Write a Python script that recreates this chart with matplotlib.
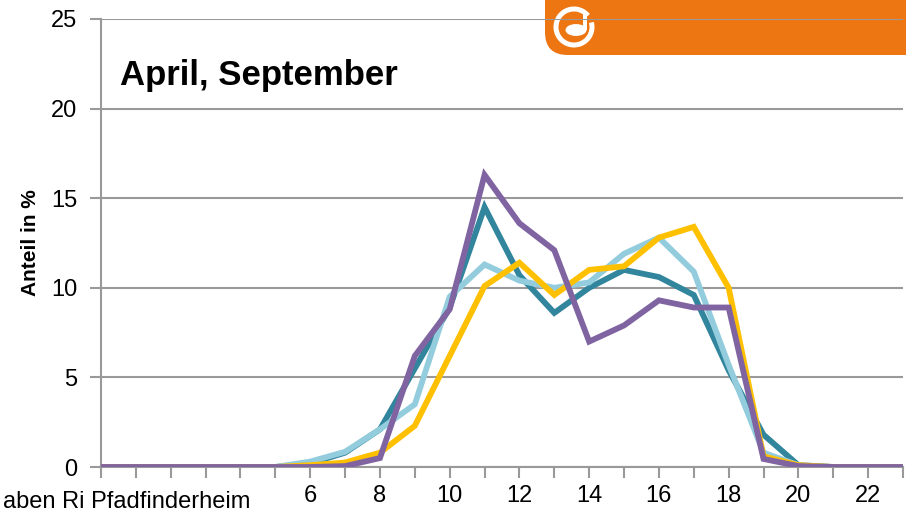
import matplotlib.pyplot as plt
from matplotlib.patches import FancyBboxPatch, Circle, Arc, Rectangle

hours = list(range(24))
teal = [0, 0, 0, 0, 0, 0, 0.2, 0.8, 2.1, 5.5, 8.9, 14.5, 10.7, 8.6, 10.0, 11.0, 10.6, 9.6, 5.4, 1.8, 0.1, 0, 0, 0]
lightblue = [0, 0, 0, 0, 0, 0, 0.3, 0.85, 2.1, 3.5, 9.5, 11.3, 10.4, 10.0, 10.3, 11.9, 12.8, 10.9, 5.7, 0.8, 0.1, 0, 0, 0]
yellow = [0, 0, 0, 0, 0, 0, 0.1, 0.25, 0.8, 2.3, 6.2, 10.1, 11.4, 9.6, 11.0, 11.2, 12.8, 13.4, 10.0, 0.6, 0.1, 0, 0, 0]
purple = [0, 0, 0, 0, 0, 0, 0, 0.05, 0.5, 6.2, 8.8, 16.3, 13.6, 12.1, 7.0, 7.9, 9.3, 8.9, 8.9, 0.45, 0.05, 0, 0, 0]
xlabels = [6, 8, 10, 12, 14, 16, 18, 20, 22]
yticks = [0, 5, 10, 15, 20, 25]

plt.rcParams['font.family'] = ['Liberation Sans', 'DejaVu Sans']

fig = plt.figure(figsize=(9.06, 5.14), dpi=100, facecolor='white')

# orange header box, behind the axes
box = FancyBboxPatch((545 / 906, 0.893), 0.5, 0.2, boxstyle="round,pad=0,rounding_size=0.025",
                     transform=fig.transFigure, fc='#EE7612', ec='none', zorder=-2,
                     mutation_aspect=906 / 514)
fig.patches.append(box)
# simple logo
cx, cy = 574 / 906, 1 - 27 / 514
fig.patches.append(Arc((cx, cy), 36 / 906, 36 / 514, theta1=55, theta2=25, lw=3.6,
                       color='white', transform=fig.transFigure, zorder=-1))
fig.patches.append(Circle((576 / 906, 1 - 30 / 514), 10.5 / 906, fc='white', ec='none',
                          transform=fig.transFigure, zorder=-1))
fig.patches.append(Rectangle((583 / 906, 1 - 30 / 514), 4 / 906, 16 / 514, fc='white', ec='none',
                             transform=fig.transFigure, zorder=-1))

ax = fig.add_axes([101 / 906, 1 - 467 / 514, 802 / 906, 448 / 514])
ax.set_facecolor('none')

ax.plot(hours, teal, color='#31859C', lw=4.2, solid_joinstyle='miter', zorder=3)
ax.plot(hours, lightblue, color='#93CDDD', lw=4.2, solid_joinstyle='miter', zorder=3)
ax.plot(hours, yellow, color='#FFC000', lw=4.2, solid_joinstyle='miter', zorder=3)
ax.plot(hours, purple, color='#8064A2', lw=4.2, solid_joinstyle='miter', zorder=3)

ax.set_xlim(0, 23)
ax.set_ylim(0, 25)
ax.set_yticks(yticks)
ax.set_xticks(hours)
ax.set_xticklabels([str(h) if h in xlabels else '' for h in hours])
ax.yaxis.grid(True, color='#999999', lw=1.5)
ax.set_axisbelow(True)
for s in ['top', 'right']:
    ax.spines[s].set_visible(False)
for s in ['left', 'bottom']:
    ax.spines[s].set_color('#999999')
    ax.spines[s].set_linewidth(1.5)
ax.tick_params(axis='both', colors='#999999', width=1.5, length=8, labelcolor='black', labelsize=17)
ax.tick_params(axis='y', pad=9)
ax.tick_params(axis='x', pad=5)

ax.set_ylabel('Anteil in %', fontsize=15, fontweight='bold', labelpad=8)
ax.text(120 / 906, 1 - 75 / 514, 'April, September', transform=fig.transFigure,
        fontsize=25, fontweight='bold', va='center', ha='left')

fig.text(3 / 906, 6 / 514, 'aben Ri Pfadfinderheim', fontsize=17, va='baseline', ha='left')

fig.savefig('out.png', dpi=100)
